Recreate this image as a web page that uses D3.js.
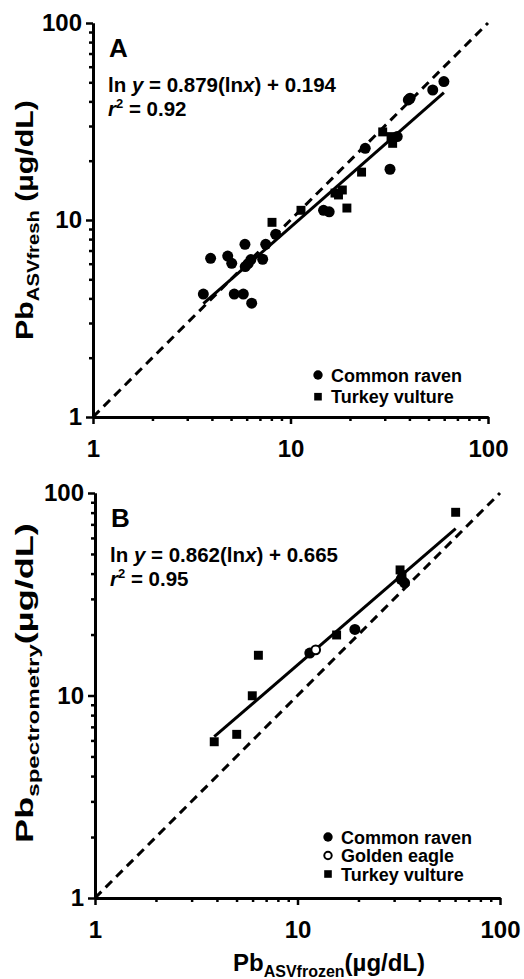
<!DOCTYPE html>
<html>
<head>
<meta charset="utf-8">
<script src="https://cdn.jsdelivr.net/npm/d3@7"></script>
<style>
  body { margin: 0; background: #fff; }
  svg { display: block; font-family: "Liberation Sans", Arial, sans-serif; font-weight: bold; }
</style>
</head>
<body>
<div id="chart"></div>
<script>
// values, [x, y] in ug/dL
var ravenA = [[3.62, 4.21], [3.94, 6.39], [4.81, 6.56], [5.04, 6.03], [5.19, 4.21], [5.77, 4.21],
  [5.88, 7.53], [5.9, 5.8], [6.1, 6.0], [6.3, 6.3], [6.36, 3.78], [7.23, 6.32], [7.49, 7.53],
  [8.41, 8.46], [14.7, 11.2], [15.7, 11.0], [23.9, 23.1], [31.9, 18.1], [34.7, 26.5],
  [39.5, 40.7], [40.3, 41.5], [52.5, 45.7], [59.8, 50.4]];
var vultureA = [[8.06, 9.73], [11.3, 11.2], [16.8, 13.7], [17.5, 13.4], [18.3, 14.2], [19.3, 11.5],
  [22.9, 17.5], [29.3, 28.0], [32.3, 26.5], [32.9, 24.5]];

var ravenB = [[11.5, 16.2], [19.2, 21.2], [32.5, 37.5], [33.8, 36.0]];
var eagleB = [[12.3, 16.8]];
var vultureB = [[3.88, 5.91], [5.01, 6.43], [5.98, 9.97], [6.41, 15.8], [15.6, 19.9],
  [32.1, 41.7], [32.8, 39.5], [60.4, 80.3]];

// ln y = slope * ln x + intercept
var fitA = [0.879, 0.194];
var fitB = [0.862, 0.665];

var majorTicks = [1, 10, 100];
var minorTicks = [2, 3, 4, 5, 6, 7, 8, 9, 20, 30, 40, 50, 60, 70, 80, 90];

var width = 524, height = 979;
var svg = d3.select("#chart").append("svg").attr("width", width).attr("height", height);

drawPanel({
  left: 93, right: 488, top: 23, bottom: 417,
  letter: "A", eq: ["0.879", "0.194"], r2: "0.92", fit: fitA,
  series: [
    { name: "Common raven", shape: "circle", data: ravenA },
    { name: "Turkey vulture", shape: "square", data: vultureA }
  ],
  legendX: 318, legendY: 375, legendStep: 21.7,
  ytitle: ["Pb", "ASVfresh", " (µg/dL)"], ytitleY: 220, ytitleLen: 240
});

drawPanel({
  left: 95, right: 500, top: 493, bottom: 898,
  letter: "B", eq: ["0.862", "0.665"], r2: "0.95", fit: fitB,
  series: [
    { name: "Common raven", shape: "circle", data: ravenB },
    { name: "Golden eagle", shape: "open", data: eagleB },
    { name: "Turkey vulture", shape: "square", data: vultureB }
  ],
  legendX: 328, legendY: 837, legendStep: 18.5,
  ytitle: ["Pb", "spectrometry", "(µg/dL)"], ytitleY: 683, ytitleLen: 320
});

// x title only under the lower panel
var xt = svg.append("text").attr("x", 233).attr("y", 971).attr("font-size", 24);
xt.append("tspan").text("Pb");
xt.append("tspan").attr("font-size", 16).attr("dy", 6).text("ASVfrozen");
xt.append("tspan").attr("dy", -6).text("(µg/dL)");

function drawPanel(p) {
  var x = d3.scaleLog().domain([1, 100]).range([p.left, p.right]);
  var y = d3.scaleLog().domain([1, 100]).range([p.bottom, p.top]);
  var g = svg.append("g");

  // minor ticks first, then major ticks + labels
  g.append("g").attr("transform", "translate(0," + p.bottom + ")")
    .call(d3.axisBottom(x).tickValues(minorTicks).tickSize(4).tickSizeOuter(0).tickFormat(""));
  g.append("g").attr("transform", "translate(" + p.left + ",0)")
    .call(d3.axisLeft(y).tickValues(minorTicks).tickSize(4).tickSizeOuter(0).tickFormat(""));
  g.append("g").attr("transform", "translate(0," + p.bottom + ")")
    .call(d3.axisBottom(x).tickValues(majorTicks).tickSize(7).tickSizeOuter(0).tickPadding(16).tickFormat(d3.format("d")));
  g.append("g").attr("transform", "translate(" + p.left + ",0)")
    .call(d3.axisLeft(y).tickValues(majorTicks).tickSize(7).tickSizeOuter(0).tickPadding(4).tickFormat(d3.format("d")));
  g.selectAll("g").attr("font-family", null).attr("font-size", null);
  g.selectAll(".domain").attr("stroke-width", 3);
  g.selectAll(".tick line").attr("stroke-width", 2.5);
  g.selectAll(".tick text").attr("font-size", 24).attr("font-weight", "bold")
    .attr("font-family", "Liberation Sans, Arial, sans-serif").attr("fill", "#000");

  // 1:1 line
  g.append("line")
    .attr("x1", x(1)).attr("y1", y(1)).attr("x2", x(100)).attr("y2", y(100))
    .attr("stroke", "#000").attr("stroke-width", 3).attr("stroke-dasharray", "9,6");

  // fitted line over the range of x
  var all = [];
  p.series.forEach(function (s) { all = all.concat(s.data); });
  var ext = d3.extent(all, function (d) { return d[0]; });
  var line = d3.line()
    .x(function (d) { return x(d); })
    .y(function (d) { return y(Math.exp(p.fit[0] * Math.log(d) + p.fit[1])); });
  g.append("path").datum(ext).attr("d", line)
    .attr("fill", "none").attr("stroke", "#000").attr("stroke-width", 3);

  p.series.forEach(function (s) {
    var sel = g.append("g").selectAll("path").data(s.data).enter().append("path")
      .attr("transform", function (d) { return "translate(" + x(d[0]) + "," + y(d[1]) + ")"; });
    drawSymbol(sel, s.shape, 1);
  });

  // legend
  p.series.forEach(function (s, i) {
    var ly = p.legendY + i * p.legendStep;
    var m = g.append("path").attr("transform", "translate(" + p.legendX + "," + ly + ")");
    drawSymbol(m, s.shape, 0.85);
    g.append("text").attr("x", p.legendX + 13).attr("y", ly + 6.5)
      .attr("font-size", 18).text(s.name);
  });

  // panel letter, equation
  g.append("text").attr("x", p.left + 16).attr("y", p.top + 34).attr("font-size", 26).text(p.letter);
  var eq = g.append("text").attr("x", p.left + 15).attr("y", p.top + 69).attr("font-size", 20.5);
  eq.append("tspan").text("ln ");
  eq.append("tspan").attr("font-style", "italic").text("y");
  eq.append("tspan").text(" = " + p.eq[0] + "(ln");
  eq.append("tspan").attr("font-style", "italic").text("x");
  eq.append("tspan").text(") + " + p.eq[1]);
  var r2 = g.append("text").attr("x", p.left + 15).attr("y", p.top + 93).attr("font-size", 20.5);
  r2.append("tspan").attr("font-style", "italic").text("r");
  r2.append("tspan").attr("font-size", 13).attr("dy", -8).text("2");
  r2.append("tspan").attr("dy", 8).text(" = " + p.r2);

  // y title, stretched along its length to the original's span
  var yt = g.append("text").attr("text-anchor", "middle").attr("font-size", 24);
  yt.append("tspan").text(p.ytitle[0]);
  yt.append("tspan").attr("font-size", 16).attr("dy", 6).text(p.ytitle[1]);
  yt.append("tspan").attr("dy", -6).text(p.ytitle[2]);
  var len = yt.node().getBBox().width;
  yt.attr("transform", "translate(33," + p.ytitleY + ") rotate(-90) scale(" + (p.ytitleLen / len) + ",1)");
}

function drawSymbol(sel, shape, k) {
  if (shape === "square") {
    sel.attr("d", d3.symbol().type(d3.symbolSquare).size(80 * k * k)).attr("fill", "#000");
  } else if (shape === "open") {
    sel.attr("d", d3.symbol().type(d3.symbolCircle).size(60 * k * k))
      .attr("fill", "#fff").attr("stroke", "#000").attr("stroke-width", 2);
  } else {
    sel.attr("d", d3.symbol().type(d3.symbolCircle).size(95 * k * k)).attr("fill", "#000");
  }
}
</script>
</body>
</html>
